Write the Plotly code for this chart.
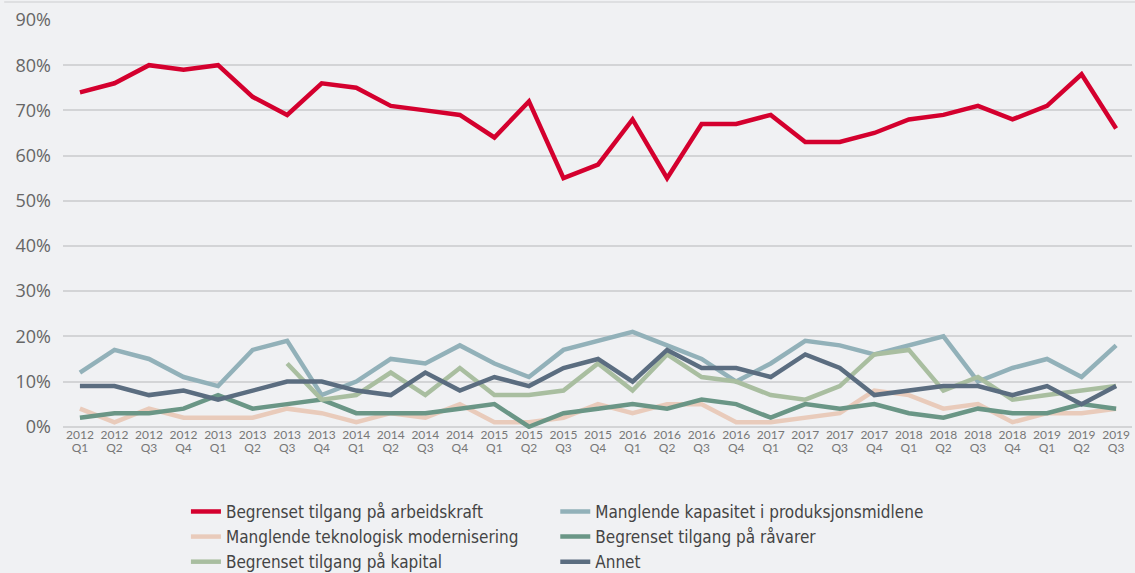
import plotly.graph_objects as go

years = ["2012"]*4 + ["2013"]*4 + ["2014"]*4 + ["2015"]*4 + ["2016"]*4 + ["2017"]*4 + ["2018"]*4 + ["2019"]*3
quarters = (["Q1", "Q2", "Q3", "Q4"] * 8)[:31]

arbeidskraft = [74, 76, 80, 79, 80, 73, 69, 76, 75, 71, 70, 69, 64, 72, 55, 58,
                68, 55, 67, 67, 69, 63, 63, 65, 68, 69, 71, 68, 71, 78, 66]
kapasitet = [12, 17, 15, 11, 9, 17, 19, 7, 10, 15, 14, 18, 14, 11, 17, 19,
             21, 18, 15, 10, 14, 19, 18, 16, 18, 20, 10, 13, 15, 11, 18]
teknologisk = [4, 1, 4, 2, 2, 2, 4, 3, 1, 3, 2, 5, 1, 1, 2, 5,
               3, 5, 5, 1, 1, 2, 3, 8, 7, 4, 5, 1, 3, 3, 4]
raavarer = [2, 3, 3, 4, 7, 4, 5, 6, 3, 3, 3, 4, 5, 0, 3, 4,
            5, 4, 6, 5, 2, 5, 4, 5, 3, 2, 4, 3, 3, 5, 4]
kapital = [None, None, None, None, None, None, 14, 6, 7, 12, 7, 13, 7, 7, 8, 14,
           8, 16, 11, 10, 7, 6, 9, 16, 17, 8, 11, 6, 7, 8, 9]
annet = [9, 9, 7, 8, 6, 8, 10, 10, 8, 7, 12, 8, 11, 9, 13, 15,
         10, 17, 13, 13, 11, 16, 13, 7, 8, 9, 9, 7, 9, 5, 9]

series = [
    ("Begrenset tilgang på arbeidskraft", arbeidskraft, "#d4002e", "legend"),
    ("Manglende kapasitet i produksjonsmidlene", kapasitet, "#92b1b9", "legend2"),
    ("Manglende teknologisk modernisering", teknologisk, "#e9cbbb", "legend"),
    ("Begrenset tilgang på råvarer", raavarer, "#6a9686", "legend2"),
    ("Begrenset tilgang på kapital", kapital, "#a9bea0", "legend"),
    ("Annet", annet, "#5b6d80", "legend2"),
]

x_idx = list(range(len(years)))
fig = go.Figure()
for name, vals, color, lg in series:
    fig.add_trace(go.Scatter(
        x=x_idx, y=vals, mode="lines", name=name, legend=lg,
        line=dict(color=color, width=4.5), connectgaps=False,
    ))
# invisible helper trace so the quarter-label axis is drawn
fig.add_trace(go.Scatter(x=x_idx, y=[None]*len(x_idx), xaxis="x2",
                         showlegend=False, hoverinfo="skip", mode="lines"))

legend_font = dict(family="DejaVu Sans Condensed, Liberation Sans Narrow, sans-serif",
                   size=17, color="#444444")
xr = [-0.49, 30.46]
tick_font = dict(size=12, color="#777777", family="Lato, Roboto, sans-serif")
fig.update_layout(
    width=1135, height=573,
    paper_bgcolor="#f0f1f3", plot_bgcolor="#f0f1f3",
    margin=dict(l=63, r=3, t=20, b=144),
    font=dict(family="Open Sans, Lato, sans-serif", color="#666666"),
    showlegend=True,
    legend=dict(
        orientation="v", x=0.115, xanchor="left", xref="paper",
        y=0.138, yanchor="top", yref="container",
        font=legend_font, itemwidth=30, tracegroupgap=0, bgcolor="rgba(0,0,0,0)",
    ),
    legend2=dict(
        orientation="v", x=0.4605, xanchor="left", xref="paper",
        y=0.138, yanchor="top", yref="container",
        font=legend_font, itemwidth=30, tracegroupgap=0, bgcolor="rgba(0,0,0,0)",
    ),
    xaxis=dict(
        tickmode="array", tickvals=x_idx, ticktext=years,
        range=xr, showgrid=False, zeroline=False,
        showline=False, ticks="", ticklabelstandoff=-3,
        tickfont=tick_font,
    ),
    xaxis2=dict(
        tickmode="array", tickvals=x_idx, ticktext=quarters,
        range=xr, overlaying="x", side="bottom", anchor="y",
        showgrid=False, zeroline=False, showline=False, ticks="",
        ticklabelstandoff=10, tickfont=tick_font,
    ),
    yaxis=dict(
        range=[-0.5, 90], tickvals=[0, 10, 20, 30, 40, 50, 60, 70, 80, 90],
        ticktext=[f"{v}%" for v in range(0, 100, 10)],
        showgrid=True, gridcolor="#d3d4d6", gridwidth=1.5, zeroline=False,
        tickfont=dict(size=18, color="#666666"), ticklabelstandoff=11,
    ),
    shapes=[dict(type="line", xref="paper", yref="paper", x0=-0.055, x1=1.01,
                 y0=1.044, y1=1.044, line=dict(color="#d8d9db", width=1.5))],
)

post = """
document.body.style.margin = '0';
document.body.style.padding = '0';
document.documentElement.style.overflow = 'hidden';
var gd = document.getElementById('{plot_id}');
Plotly.relayout(gd, {width: 1135, height: 573});
"""

fig.write_html("out.html", post_script=post,
               config={"responsive": False, "displayModeBar": False})
